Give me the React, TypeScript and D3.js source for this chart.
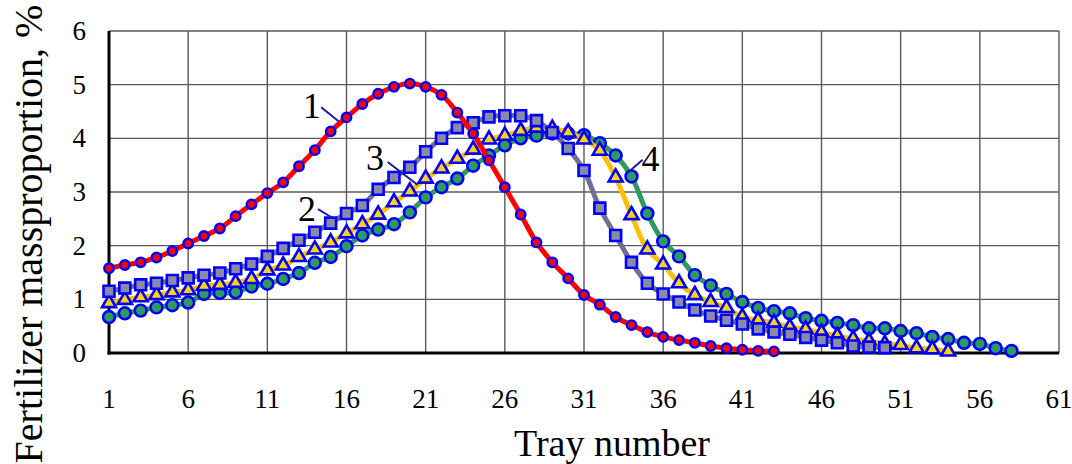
import React, { useRef, useEffect } from 'react';
import * as d3 from 'd3';

// tray numbers on x axis, mass proportion (%) on y
const xTicks = [1, 6, 11, 16, 21, 26, 31, 36, 41, 46, 51, 56, 61];
const yTicks = [0, 1, 2, 3, 4, 5, 6];

const curve1 = [1.58, 1.64, 1.69, 1.78, 1.90, 2.04, 2.18, 2.32, 2.55, 2.77, 2.98, 3.18, 3.48, 3.78, 4.13, 4.39, 4.64, 4.83, 4.96, 5.02,
  4.96, 4.81, 4.48, 4.09, 3.59, 3.09, 2.58, 2.06, 1.69, 1.39, 1.08, 0.90, 0.67, 0.52, 0.39, 0.30, 0.24, 0.19, 0.13, 0.09,
  0.06, 0.04, 0.03];
const curve2 = [1.15, 1.21, 1.27, 1.30, 1.35, 1.40, 1.45, 1.49, 1.57, 1.66, 1.80, 1.95, 2.10, 2.25, 2.42, 2.60, 2.75, 3.05, 3.27, 3.46,
  3.75, 4.00, 4.20, 4.29, 4.40, 4.42, 4.42, 4.33, 4.11, 3.81, 3.40, 2.70, 2.19, 1.69, 1.30, 1.10, 0.95, 0.80, 0.69, 0.61,
  0.54, 0.45, 0.39, 0.35, 0.29, 0.24, 0.19, 0.13, 0.11, 0.10];
const curve3 = [0.93, 0.99, 1.04, 1.08, 1.13, 1.17, 1.25, 1.27, 1.31, 1.38, 1.54, 1.63, 1.79, 1.93, 2.06, 2.23, 2.40, 2.58, 2.81, 3.01,
  3.25, 3.44, 3.62, 3.79, 3.98, 4.05, 4.14, 4.20, 4.18, 4.11, 3.98, 3.77, 3.27, 2.57, 1.93, 1.65, 1.30, 1.08, 0.95, 0.84,
  0.67, 0.61, 0.56, 0.48, 0.44, 0.38, 0.32, 0.26, 0.22, 0.17, 0.15, 0.09, 0.07, 0.03];
const curve4 = [0.67, 0.74, 0.79, 0.85, 0.89, 0.94, 1.10, 1.12, 1.13, 1.24, 1.29, 1.38, 1.49, 1.68, 1.79, 1.99, 2.19, 2.30, 2.40, 2.62,
  2.90, 3.09, 3.25, 3.49, 3.68, 3.87, 4.00, 4.05, 4.09, 4.09, 4.06, 3.91, 3.68, 3.29, 2.60, 2.08, 1.80, 1.45, 1.26, 1.10,
  0.95, 0.84, 0.78, 0.74, 0.65, 0.60, 0.56, 0.52, 0.46, 0.46, 0.41, 0.37, 0.30, 0.26, 0.19, 0.17, 0.09, 0.04];

// curve numbers: label centre and leader line ends, in tray / % units
const labels = [
  { text: '1', tray: 13.8, value: 4.62, from: [14.4, 4.58], to: [15.5, 4.32] },
  { text: '2', tray: 13.5, value: 2.70, from: [14.2, 2.68], to: [15.1, 2.52] },
  { text: '3', tray: 17.8, value: 3.65, from: [18.6, 3.56], to: [20.5, 3.13] },
  { text: '4', tray: 35.2, value: 3.63, from: [34.7, 3.60], to: [33.8, 3.37] },
];

const FONT = '"Liberation Serif", "Times New Roman", serif';

const App = () => {
  const chartRef = useRef<SVGSVGElement>(null);

  useEffect(() => {
    const svg = d3.select(chartRef.current);
    svg.selectAll('*').remove();

    const x = d3.scaleLinear().domain([1, 61]).range([109, 1059]);
    const y = d3.scaleLinear().domain([0, 6]).range([353, 31]);

    const g = svg.append('g');

    // grid
    g.selectAll('.vgrid').data(xTicks).enter().append('line')
      .attr('x1', d => x(d)).attr('x2', d => x(d))
      .attr('y1', y(0)).attr('y2', y(6))
      .attr('stroke', '#5a5a5a').attr('stroke-width', 1.4);
    g.selectAll('.hgrid').data(yTicks).enter().append('line')
      .attr('x1', x(1)).attr('x2', x(61))
      .attr('y1', d => y(d)).attr('y2', d => y(d))
      .attr('stroke', '#5a5a5a').attr('stroke-width', 1.4);

    // axes
    g.append('line').attr('x1', x(1)).attr('x2', x(1)).attr('y1', y(6)).attr('y2', y(0) + 1.5)
      .attr('stroke', '#000').attr('stroke-width', 3);
    g.append('line').attr('x1', x(1) - 1.5).attr('x2', x(61)).attr('y1', y(0)).attr('y2', y(0))
      .attr('stroke', '#000').attr('stroke-width', 3);

    g.selectAll('.ylab').data(yTicks).enter().append('text')
      .attr('x', 86).attr('y', d => y(d) + 9)
      .attr('text-anchor', 'end')
      .style('font-family', FONT).style('font-size', '27px')
      .text(d => d);
    g.selectAll('.xlab').data(xTicks).enter().append('text')
      .attr('x', d => x(d)).attr('y', 408)
      .attr('text-anchor', 'middle')
      .style('font-family', FONT).style('font-size', '27px')
      .text(d => d);

    g.append('text')
      .attr('x', 612).attr('y', 456)
      .attr('text-anchor', 'middle')
      .style('font-family', FONT).style('font-size', '38px')
      .text('Tray number');
    g.append('text')
      .attr('transform', 'translate(42, 234) rotate(-90)')
      .attr('text-anchor', 'middle')
      .style('font-family', FONT).style('font-size', '40px')
      .text('Fertilizer massproportion, %');

    const line = d3.line<number>()
      .x((d, i) => x(i + 1))
      .y(d => y(d))
      .curve(d3.curveCatmullRom.alpha(0.5));

    const series = [
      { data: curve4, color: '#2f9a5e', fill: '#2f9a5e', marker: 'circle' },
      { data: curve3, color: '#ffc000', fill: '#ffd21a', marker: 'triangle' },
      { data: curve2, color: '#6f6f96', fill: '#8a8aa6', marker: 'square' },
      { data: curve1, color: '#ff0000', fill: '#ff0000', marker: 'dot' },
    ];

    series.forEach(s => {
      g.append('path')
        .attr('d', line(s.data))
        .attr('fill', 'none')
        .attr('stroke', s.color)
        .attr('stroke-width', 5);

      const sym = s.marker === 'square' ? d3.symbolSquare
        : s.marker === 'triangle' ? d3.symbolTriangle : d3.symbolCircle;
      const size = s.marker === 'dot' ? 70 : s.marker === 'square' ? 120 : s.marker === 'triangle' ? 85 : 110;

      g.selectAll(null).data(s.data).enter().append('path')
        .attr('transform', (d, i) => `translate(${x(i + 1)},${y(d)})`)
        .attr('d', d3.symbol().type(sym).size(size)())
        .attr('fill', s.fill)
        .attr('stroke', '#0000ff')
        .attr('stroke-width', s.marker === 'dot' ? 2.4 : 2.6);
    });

    // curve numbers with leader lines
    labels.forEach(l => {
      g.append('line')
        .attr('x1', x(l.from[0])).attr('y1', y(l.from[1]))
        .attr('x2', x(l.to[0])).attr('y2', y(l.to[1]))
        .attr('stroke', '#1a1aa0').attr('stroke-width', 2);
      g.append('text')
        .attr('x', x(l.tray)).attr('y', y(l.value))
        .attr('text-anchor', 'middle')
        .attr('dy', '0.35em')
        .style('font-family', FONT).style('font-size', '36px')
        .text(l.text);
    });
  }, []);

  return (
    <svg ref={chartRef} width={1072} height={464}
      style={{ position: 'absolute', left: 0, top: 0, background: '#fff' }} />
  );
};

export default App;
